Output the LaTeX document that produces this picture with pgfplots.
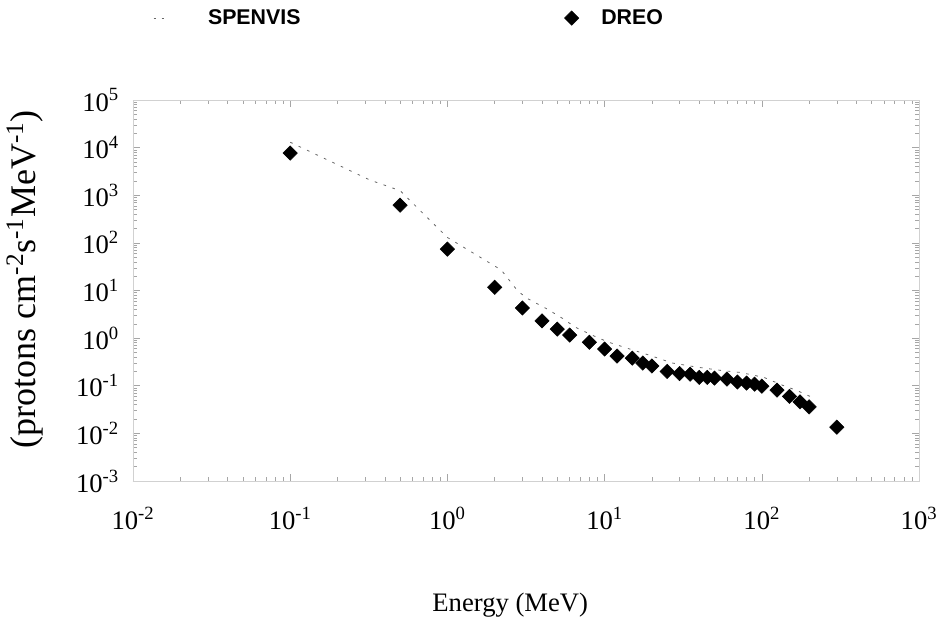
\documentclass[border=0pt]{standalone}
\usepackage{fontspec}
\setmainfont{Liberation Serif}
\newfontfamily\legfont{Liberation Sans}
\usepackage{pgfplots}
\pgfplotsset{compat=1.18}
\begin{document}
\begin{tikzpicture}
\useasboundingbox (-99.75pt,-108.75pt) rectangle (609.75pt,360.75pt);
\begin{axis}[
  at={(0pt,0pt)}, anchor=south west,
  scale only axis, width=589.5pt, height=285.75pt,
  xmode=log, ymode=log,
  xmin=0.01, xmax=1000, ymin=1e-3, ymax=1e5,
  xtick={0.01,0.1,1,10,100,1000},
  xticklabels={10\textsuperscript{-2},10\textsuperscript{-1},10\textsuperscript{0},10\textsuperscript{1},10\textsuperscript{2},10\textsuperscript{3}},
  ytick={1e-3,1e-2,1e-1,1,10,100,1000,1e4,1e5},
  yticklabels={10\textsuperscript{-3},10\textsuperscript{-2},10\textsuperscript{-1},10\textsuperscript{0},10\textsuperscript{1},10\textsuperscript{2},10\textsuperscript{3},10\textsuperscript{4},10\textsuperscript{5}},
  axis line style={black!18, line width=0.4pt},
  tick style={black!35, line width=0.4pt},
  major tick length=5pt, minor tick length=3pt,
  tick align=inside,
  ticklabel style={font=\fontsize{20}{24}\selectfont},
  xticklabel style={yshift=-16pt},
  yticklabel style={xshift=-7pt},
  xlabel={Energy (MeV)},
  ylabel={(protons cm\textsuperscript{-2}s\textsuperscript{-1}MeV\textsuperscript{-1})},
  xlabel style={font=\fontsize{20}{24}\selectfont, at={(axis description cs:0.48,-0.325)}, anchor=center},
  ylabel style={font=\fontsize{27}{31}\selectfont, at={(axis description cs:-0.138,0.53)}, anchor=center},
  legend columns=2,
  legend cell align=left,
  legend style={draw=none, fill=none, at={(axis description cs:0.0254,1.215)}, anchor=west,
    inner sep=0pt, nodes={inner sep=0pt},
    font=\legfont\bfseries\fontsize{16}{19}\selectfont,
    /tikz/every even column/.append style={column sep=198pt}},
]
\addplot[black!60, line width=0.6pt, dash pattern=on 2pt off 5pt,
  legend image code/.code={\draw[black!60, line width=0.6pt, dash pattern=on 2pt off 4pt] (0pt,0pt) -- (10pt,0pt); \path (40.5pt,0pt);}]
  table {
  x y
  0.1 13000
  0.32 2100
  0.5 1250
  1 130
  2.2 27
  2.8 9.8
  3.2 6.9
  4.3 4.1
  5.4 2.6
  6.5 1.7
  8.3 1.16
  10.5 0.83
  14 0.61
  19.6 0.43
  27 0.30
  39 0.245
  55 0.21
  73 0.19
  103 0.15
  138 0.10
  165 0.081
  220 0.053
  };
\addlegendentry{SPENVIS}
\addplot[only marks, black, mark=square*, mark size=3.8pt, mark options={rotate=45, fill=black},
  legend image code/.code={\draw[black, mark=square*, mark size=3.8pt, mark options={rotate=45, fill=black}] plot coordinates {(0pt,0pt)}; \path (22pt,0pt);}]
  table {
  x y
  0.1 7700
  0.5 620
  1 74
  2 11.7
  3 4.3
  4 2.3
  5 1.55
  6 1.16
  8 0.82
  10 0.59
  12 0.42
  15 0.38
  17.5 0.30
  20 0.26
  25 0.20
  30 0.18
  35 0.175
  40 0.15
  45 0.15
  50 0.145
  60 0.138
  70 0.12
  80 0.114
  90 0.108
  100 0.098
  125 0.081
  150 0.06
  175 0.046
  200 0.036
  300 0.0135
  };
\addlegendentry{DREO}
\end{axis}
\end{tikzpicture}
\end{document}
